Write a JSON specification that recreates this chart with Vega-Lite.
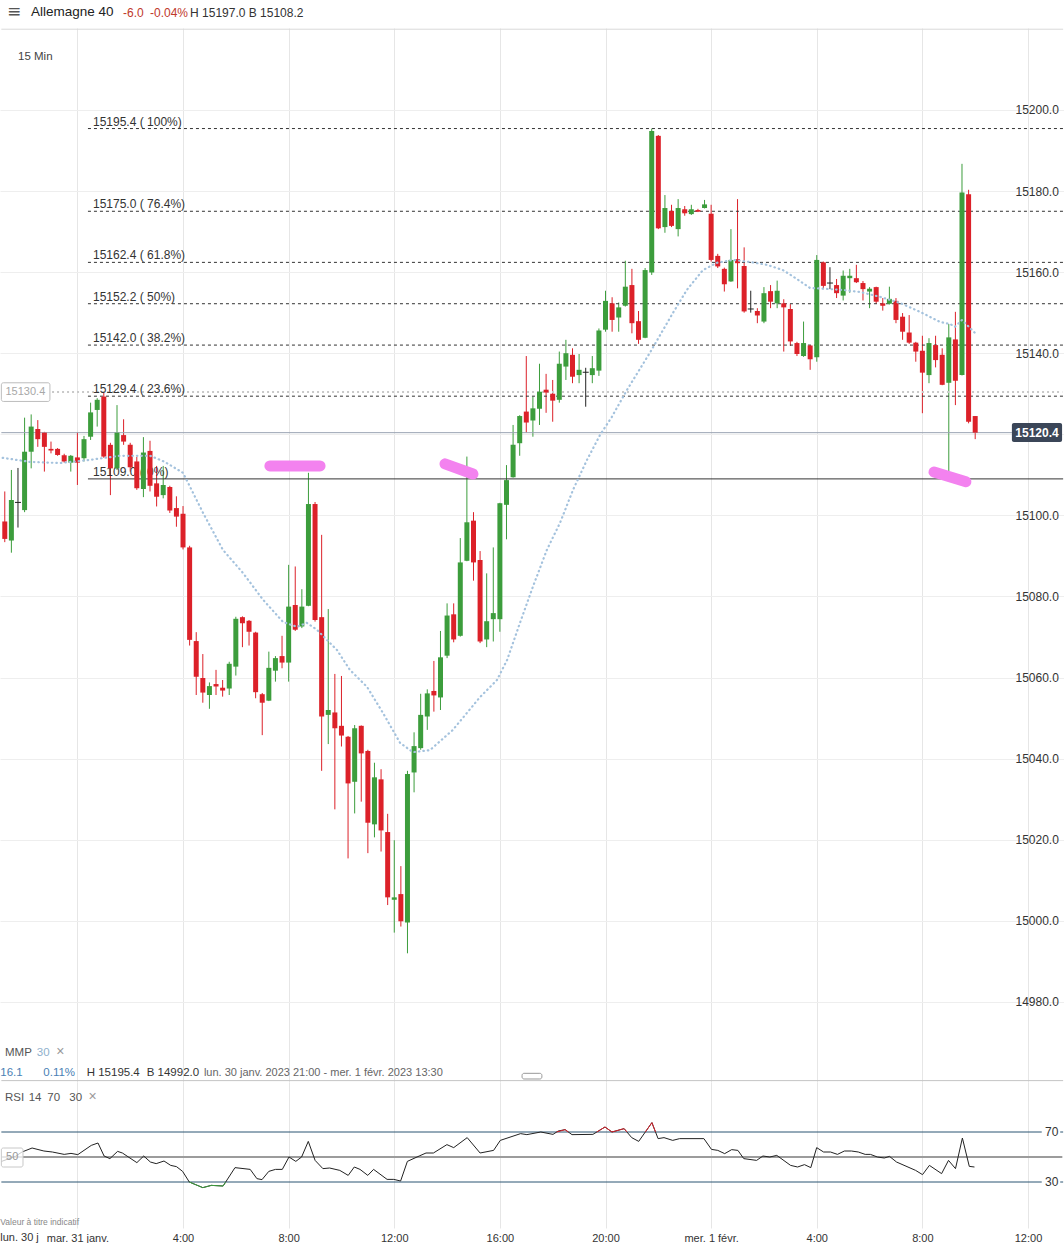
{
"$schema": "https://vega.github.io/schema/vega-lite/v6.json",
"padding": 0,
"background": "white",
"spacing": 0,
"config": {"view": {"stroke": null}, "font": "Liberation Sans"},
"datasets": {
"candles": [
{"h":-2.75,"o":15098.5,"hi":15105.9,"lo":15093.4,"c":15094.2},
{"h":-2.5,"o":15093.8,"hi":15111.2,"lo":15090.8,"c":15103.8},
{"h":-2.25,"o":15103.2,"hi":15111.7,"lo":15097.0,"c":15103.2},
{"h":-2,"o":15101.3,"hi":15124.1,"lo":15100.8,"c":15115.7},
{"h":-1.75,"o":15115.7,"hi":15124.9,"lo":15111.6,"c":15121.9},
{"h":-1.5,"o":15121.3,"hi":15123.5,"lo":15116.9,"c":15118.8},
{"h":-1.25,"o":15120.4,"hi":15120.6,"lo":15110.8,"c":15116.9},
{"h":-1,"o":15116.4,"hi":15118.2,"lo":15115.3,"c":15116.0},
{"h":-0.75,"o":15116.4,"hi":15116.6,"lo":15114.7,"c":15114.9},
{"h":-0.5,"o":15114.8,"hi":15115.2,"lo":15113.0,"c":15113.3},
{"h":-0.25,"o":15113.0,"hi":15114.9,"lo":15110.8,"c":15114.7},
{"h":0,"o":15114.3,"hi":15120.5,"lo":15107.5,"c":15113.0},
{"h":0.25,"o":15114.1,"hi":15119.6,"lo":15113.3,"c":15118.8},
{"h":0.5,"o":15119.4,"hi":15127.8,"lo":15118.6,"c":15125.4},
{"h":0.75,"o":15126.0,"hi":15128.9,"lo":15121.9,"c":15128.5},
{"h":1,"o":15129.3,"hi":15130.2,"lo":15114.2,"c":15114.5},
{"h":1.25,"o":15117.4,"hi":15117.9,"lo":15105.0,"c":15111.6},
{"h":1.5,"o":15111.6,"hi":15127.2,"lo":15111.2,"c":15120.4},
{"h":1.75,"o":15119.8,"hi":15123.7,"lo":15117.4,"c":15118.2},
{"h":2,"o":15117.4,"hi":15117.9,"lo":15110.8,"c":15111.9},
{"h":2.25,"o":15113.3,"hi":15114.4,"lo":15106.3,"c":15106.7},
{"h":2.5,"o":15106.5,"hi":15119.3,"lo":15104.5,"c":15115.5},
{"h":2.75,"o":15115.9,"hi":15118.4,"lo":15105.9,"c":15107.3},
{"h":3,"o":15107.9,"hi":15112.2,"lo":15102.2,"c":15104.6},
{"h":3.25,"o":15105.0,"hi":15112.2,"lo":15104.2,"c":15107.5},
{"h":3.5,"o":15107.0,"hi":15107.3,"lo":15100.6,"c":15101.2},
{"h":3.75,"o":15101.8,"hi":15104.7,"lo":15097.2,"c":15099.7},
{"h":4,"o":15100.4,"hi":15102.3,"lo":15091.6,"c":15092.1},
{"h":4.25,"o":15092.1,"hi":15092.5,"lo":15067.9,"c":15069.3},
{"h":4.5,"o":15069.0,"hi":15071.2,"lo":15055.7,"c":15060.2},
{"h":4.75,"o":15059.9,"hi":15065.8,"lo":15053.8,"c":15056.3},
{"h":5,"o":15055.7,"hi":15058.8,"lo":15052.3,"c":15057.9},
{"h":5.25,"o":15058.4,"hi":15061.9,"lo":15055.7,"c":15057.8},
{"h":5.5,"o":15057.5,"hi":15059.4,"lo":15055.3,"c":15056.8},
{"h":5.75,"o":15057.3,"hi":15063.9,"lo":15055.7,"c":15063.4},
{"h":6,"o":15062.7,"hi":15075.0,"lo":15060.5,"c":15074.5},
{"h":6.25,"o":15074.9,"hi":15075.1,"lo":15067.5,"c":15073.4},
{"h":6.5,"o":15074.0,"hi":15074.2,"lo":15067.9,"c":15071.3},
{"h":6.75,"o":15071.1,"hi":15071.3,"lo":15054.9,"c":15056.4},
{"h":7,"o":15055.9,"hi":15056.2,"lo":15045.8,"c":15053.8},
{"h":7.25,"o":15054.3,"hi":15066.4,"lo":15054.2,"c":15062.4},
{"h":7.5,"o":15061.7,"hi":15065.3,"lo":15059.0,"c":15064.8},
{"h":7.75,"o":15065.3,"hi":15070.3,"lo":15062.3,"c":15063.7},
{"h":8,"o":15063.7,"hi":15087.8,"lo":15059.0,"c":15077.5},
{"h":8.25,"o":15077.9,"hi":15087.4,"lo":15071.5,"c":15071.8},
{"h":8.5,"o":15072.6,"hi":15081.8,"lo":15072.2,"c":15077.5},
{"h":8.75,"o":15077.7,"hi":15110.5,"lo":15077.6,"c":15102.8},
{"h":9,"o":15102.8,"hi":15103.3,"lo":15073.8,"c":15074.2},
{"h":9.25,"o":15074.9,"hi":15095.2,"lo":15037.0,"c":15050.4},
{"h":9.5,"o":15050.8,"hi":15076.9,"lo":15043.6,"c":15052.0},
{"h":9.75,"o":15051.4,"hi":15060.9,"lo":15027.5,"c":15047.5},
{"h":10,"o":15048.1,"hi":15060.4,"lo":15043.0,"c":15045.7},
{"h":10.25,"o":15045.4,"hi":15045.6,"lo":15015.4,"c":15033.9},
{"h":10.5,"o":15034.3,"hi":15048.3,"lo":15026.5,"c":15047.5},
{"h":10.75,"o":15048.1,"hi":15048.2,"lo":15029.4,"c":15041.3},
{"h":11,"o":15041.9,"hi":15042.2,"lo":15016.7,"c":15024.2},
{"h":11.25,"o":15023.8,"hi":15039.0,"lo":15020.6,"c":15035.4},
{"h":11.5,"o":15034.9,"hi":15037.4,"lo":15017.1,"c":15022.3},
{"h":11.75,"o":15021.9,"hi":15026.4,"lo":15003.9,"c":15005.8},
{"h":12,"o":15005.2,"hi":15019.9,"lo":14997.1,"c":15005.8},
{"h":12.25,"o":15006.6,"hi":15013.5,"lo":14998.6,"c":14999.9},
{"h":12.5,"o":14999.6,"hi":15037.0,"lo":14992.0,"c":15036.2},
{"h":12.75,"o":15036.6,"hi":15046.5,"lo":15031.7,"c":15043.1},
{"h":13,"o":15042.6,"hi":15056.0,"lo":15042.2,"c":15050.8},
{"h":13.25,"o":15050.4,"hi":15057.1,"lo":15047.1,"c":15056.1},
{"h":13.5,"o":15056.7,"hi":15064.1,"lo":15051.6,"c":15055.6},
{"h":13.75,"o":15055.1,"hi":15071.5,"lo":15052.0,"c":15065.0},
{"h":14,"o":15065.4,"hi":15078.3,"lo":15064.8,"c":15075.3},
{"h":14.25,"o":15075.6,"hi":15078.3,"lo":15068.7,"c":15069.4},
{"h":14.5,"o":15070.3,"hi":15094.4,"lo":15070.1,"c":15088.4},
{"h":14.75,"o":15088.8,"hi":15114.5,"lo":15088.7,"c":15098.3},
{"h":15,"o":15098.7,"hi":15100.8,"lo":15083.9,"c":15088.4},
{"h":15.25,"o":15089.0,"hi":15091.2,"lo":15068.5,"c":15068.9},
{"h":15.5,"o":15069.4,"hi":15085.7,"lo":15067.5,"c":15073.9},
{"h":15.75,"o":15074.4,"hi":15092.1,"lo":15068.9,"c":15075.9},
{"h":16,"o":15074.4,"hi":15103.1,"lo":15071.3,"c":15103.0},
{"h":16.25,"o":15102.6,"hi":15112.4,"lo":15094.1,"c":15108.7},
{"h":16.5,"o":15109.4,"hi":15122.3,"lo":15109.3,"c":15117.4},
{"h":16.75,"o":15117.8,"hi":15124.7,"lo":15114.7,"c":15124.5},
{"h":17,"o":15125.6,"hi":15139.3,"lo":15120.4,"c":15122.9},
{"h":17.25,"o":15123.4,"hi":15129.3,"lo":15119.4,"c":15126.4},
{"h":17.5,"o":15126.3,"hi":15137.4,"lo":15122.3,"c":15130.5},
{"h":17.75,"o":15131.0,"hi":15134.9,"lo":15125.3,"c":15130.3},
{"h":18,"o":15130.0,"hi":15133.4,"lo":15123.1,"c":15128.3},
{"h":18.25,"o":15128.5,"hi":15140.4,"lo":15127.8,"c":15137.4},
{"h":18.5,"o":15136.7,"hi":15143.3,"lo":15133.4,"c":15140.0},
{"h":18.75,"o":15139.6,"hi":15141.2,"lo":15132.6,"c":15134.2},
{"h":19,"o":15134.6,"hi":15139.8,"lo":15132.6,"c":15135.9},
{"h":19.25,"o":15135.3,"hi":15136.4,"lo":15126.8,"c":15135.3},
{"h":19.5,"o":15134.6,"hi":15139.3,"lo":15132.6,"c":15136.3},
{"h":19.75,"o":15135.7,"hi":15146.1,"lo":15134.4,"c":15145.6},
{"h":20,"o":15145.8,"hi":15155.4,"lo":15145.3,"c":15152.9},
{"h":20.25,"o":15152.3,"hi":15153.8,"lo":15145.3,"c":15148.2},
{"h":20.5,"o":15148.8,"hi":15152.5,"lo":15145.3,"c":15151.3},
{"h":20.75,"o":15151.7,"hi":15162.8,"lo":15151.5,"c":15156.4},
{"h":21,"o":15156.8,"hi":15160.8,"lo":15144.9,"c":15147.4},
{"h":21.25,"o":15147.9,"hi":15150.4,"lo":15142.3,"c":15143.3},
{"h":21.5,"o":15143.8,"hi":15161.0,"lo":15143.7,"c":15160.5},
{"h":21.75,"o":15159.9,"hi":15195.4,"lo":15159.3,"c":15194.8},
{"h":22,"o":15193.6,"hi":15193.8,"lo":15170.6,"c":15170.8},
{"h":22.25,"o":15171.1,"hi":15179.0,"lo":15169.7,"c":15175.8},
{"h":22.5,"o":15175.1,"hi":15176.6,"lo":15171.1,"c":15171.4},
{"h":22.75,"o":15170.6,"hi":15178.0,"lo":15168.8,"c":15175.8},
{"h":23,"o":15175.5,"hi":15176.3,"lo":15173.9,"c":15174.5},
{"h":23.25,"o":15174.3,"hi":15176.6,"lo":15174.1,"c":15175.5},
{"h":23.5,"o":15175.3,"hi":15175.6,"lo":15174.8,"c":15174.9},
{"h":23.75,"o":15175.8,"hi":15177.8,"lo":15175.7,"c":15176.7},
{"h":24,"o":15174.4,"hi":15176.6,"lo":15162.6,"c":15163.0},
{"h":24.25,"o":15164.0,"hi":15164.5,"lo":15161.0,"c":15161.4},
{"h":24.5,"o":15160.8,"hi":15161.1,"lo":15155.2,"c":15157.0},
{"h":24.75,"o":15157.7,"hi":15170.6,"lo":15157.6,"c":15163.0},
{"h":25,"o":15163.2,"hi":15178.0,"lo":15156.0,"c":15162.2},
{"h":25.25,"o":15161.5,"hi":15166.1,"lo":15150.0,"c":15150.3},
{"h":25.5,"o":15150.9,"hi":15155.4,"lo":15150.0,"c":15150.9},
{"h":25.75,"o":15150.4,"hi":15151.1,"lo":15147.4,"c":15149.3},
{"h":26,"o":15147.8,"hi":15156.3,"lo":15147.4,"c":15154.8},
{"h":26.25,"o":15155.3,"hi":15156.8,"lo":15151.1,"c":15152.7},
{"h":26.5,"o":15152.3,"hi":15157.9,"lo":15151.1,"c":15155.4},
{"h":26.75,"o":15152.3,"hi":15153.3,"lo":15140.4,"c":15151.3},
{"h":27,"o":15150.9,"hi":15152.1,"lo":15141.8,"c":15142.9},
{"h":27.25,"o":15142.5,"hi":15142.8,"lo":15139.3,"c":15139.8},
{"h":27.5,"o":15139.3,"hi":15147.8,"lo":15139.1,"c":15142.5},
{"h":27.75,"o":15141.9,"hi":15142.0,"lo":15135.9,"c":15138.5},
{"h":28,"o":15139.0,"hi":15164.2,"lo":15137.9,"c":15163.0},
{"h":28.25,"o":15162.4,"hi":15162.6,"lo":15155.8,"c":15156.6},
{"h":28.5,"o":15157.3,"hi":15161.2,"lo":15155.8,"c":15157.3},
{"h":28.75,"o":15156.8,"hi":15158.3,"lo":15153.6,"c":15154.8},
{"h":29,"o":15154.2,"hi":15160.4,"lo":15153.0,"c":15159.1},
{"h":29.25,"o":15158.5,"hi":15160.8,"lo":15154.9,"c":15159.1},
{"h":29.5,"o":15158.5,"hi":15161.8,"lo":15157.3,"c":15157.5},
{"h":29.75,"o":15157.3,"hi":15157.8,"lo":15153.0,"c":15155.8},
{"h":30,"o":15155.2,"hi":15156.3,"lo":15151.1,"c":15155.9},
{"h":30.25,"o":15156.3,"hi":15156.4,"lo":15152.2,"c":15152.7},
{"h":30.5,"o":15152.3,"hi":15153.6,"lo":15150.5,"c":15151.7},
{"h":30.75,"o":15152.2,"hi":15156.4,"lo":15152.0,"c":15153.4},
{"h":31,"o":15152.9,"hi":15153.6,"lo":15147.4,"c":15148.2},
{"h":31.25,"o":15149.0,"hi":15149.9,"lo":15143.3,"c":15145.3},
{"h":31.5,"o":15145.1,"hi":15149.4,"lo":15142.3,"c":15142.6},
{"h":31.75,"o":15142.6,"hi":15142.8,"lo":15137.9,"c":15140.4},
{"h":32,"o":15140.6,"hi":15144.3,"lo":15125.2,"c":15135.2},
{"h":32.25,"o":15134.6,"hi":15143.7,"lo":15132.6,"c":15142.5},
{"h":32.5,"o":15142.0,"hi":15144.3,"lo":15136.5,"c":15138.3},
{"h":32.75,"o":15139.6,"hi":15141.2,"lo":15132.1,"c":15132.2},
{"h":33,"o":15132.7,"hi":15147.2,"lo":15109.2,"c":15143.9},
{"h":33.25,"o":15143.4,"hi":15150.2,"lo":15127.2,"c":15133.2},
{"h":33.5,"o":15134.6,"hi":15186.7,"lo":15134.5,"c":15179.6},
{"h":33.75,"o":15179.2,"hi":15180.3,"lo":15122.7,"c":15123.1},
{"h":34,"o":15124.5,"hi":15124.5,"lo":15118.8,"c":15120.4}
],
"ma": [
{"h":-2.83,"p":15114.2},{"h":-1.8,"p":15113.2},{"h":-0.66,"p":15112.9},{"h":0.48,"p":15113.7},{"h":1.61,"p":15114.7},{"h":2.75,"p":15114.7},{"h":3.31,"p":15113.2},{"h":4.0,"p":15110.5},{"h":4.76,"p":15100.6},{"h":5.51,"p":15091.5},{"h":6.27,"p":15085.8},{"h":7.03,"p":15079.2},{"h":7.79,"p":15073.7},{"h":8.32,"p":15072.5},{"h":8.69,"p":15073.5},{"h":9.07,"p":15071.8},{"h":9.83,"p":15066.8},{"h":10.32,"p":15061.9},{"h":10.97,"p":15057.7},{"h":11.57,"p":15051.3},{"h":12.22,"p":15043.9},{"h":12.71,"p":15041.6},{"h":13.35,"p":15042.1},{"h":14.22,"p":15047.1},{"h":15.25,"p":15055.2},{"h":15.89,"p":15059.4},{"h":16.27,"p":15064.3},{"h":16.76,"p":15073.5},{"h":17.25,"p":15082.4},{"h":17.78,"p":15091.5},{"h":18.28,"p":15098.2},{"h":18.77,"p":15106.3},{"h":19.3,"p":15113.7},{"h":19.79,"p":15119.8},{"h":20.24,"p":15124.3},{"h":20.81,"p":15130.9},{"h":21.68,"p":15140.1},{"h":22.55,"p":15149.9},{"h":23.08,"p":15155.6},{"h":23.69,"p":15160.5},{"h":24.22,"p":15162.3},{"h":24.83,"p":15163.0},{"h":25.47,"p":15162.5},{"h":26.11,"p":15161.8},{"h":26.72,"p":15160.5},{"h":27.25,"p":15158.3},{"h":27.74,"p":15156.1},{"h":28.24,"p":15155.9},{"h":28.99,"p":15155.6},{"h":29.64,"p":15155.1},{"h":30.39,"p":15153.9},{"h":31.15,"p":15152.4},{"h":31.91,"p":15150.2},{"h":32.67,"p":15147.7},{"h":33.05,"p":15147.2},{"h":33.23,"p":15146.5},{"h":33.5,"p":15148.2},{"h":33.99,"p":15145.0}
],
"fib": [
{"p":15195.4,"lbl":"15195.4 ( 100%)"},
{"p":15175.0,"lbl":"15175.0 ( 76.4%)"},
{"p":15162.4,"lbl":"15162.4 ( 61.8%)"},
{"p":15152.2,"lbl":"15152.2 ( 50%)"},
{"p":15142.0,"lbl":"15142.0 ( 38.2%)"},
{"p":15129.4,"lbl":"15129.4 ( 23.6%)"}
],
"fib0": [{"p":15109.0,"lbl":"15109.0 ( 0%)"}],
"pink": [
{"id":1,"h":7.29,"p":15112.2},{"id":1,"h":9.19,"p":15112.2},
{"id":2,"h":13.92,"p":15112.7},{"id":2,"h":14.98,"p":15110.2},
{"id":3,"h":32.44,"p":15110.7},{"id":3,"h":33.65,"p":15108.3}
],
"rsi": [
{"h":-2.87,"r":46.5},{"h":-2.35,"r":50.5},{"h":-2.098,"r":54.0},{"h":-1.716,"r":57.2},{"h":-1.269,"r":54.8},{"h":-0.947,"r":54.0},{"h":-0.5,"r":52.1},{"h":-0.242,"r":52.9},{"h":0.015,"r":51.9},{"h":0.526,"r":59.3},{"h":0.78,"r":61.2},{"h":1.011,"r":50.8},{"h":1.231,"r":48.7},{"h":1.522,"r":54.5},{"h":1.704,"r":53.2},{"h":2.253,"r":45.5},{"h":2.511,"r":50.8},{"h":2.764,"r":46.0},{"h":2.984,"r":44.7},{"h":3.28,"r":46.8},{"h":3.533,"r":43.3},{"h":3.753,"r":42.3},{"h":3.984,"r":38.5},{"h":4.238,"r":30.0},{"h":4.749,"r":25.5},{"h":5.071,"r":27.3},{"h":5.518,"r":26.8},{"h":5.968,"r":41.5},{"h":6.544,"r":40.1},{"h":6.798,"r":32.7},{"h":6.991,"r":31.9},{"h":7.248,"r":38.5},{"h":7.502,"r":40.1},{"h":7.76,"r":40.1},{"h":8.013,"r":50.0},{"h":8.271,"r":46.5},{"h":8.491,"r":50.0},{"h":8.744,"r":62.5},{"h":9.002,"r":47.3},{"h":9.297,"r":40.7},{"h":9.551,"r":41.2},{"h":9.937,"r":39.3},{"h":10.255,"r":35.3},{"h":10.486,"r":42.0},{"h":10.702,"r":40.1},{"h":10.998,"r":35.3},{"h":11.217,"r":40.1},{"h":11.728,"r":32.1},{"h":11.982,"r":32.1},{"h":12.24,"r":30.8},{"h":12.497,"r":46.5},{"h":12.944,"r":50.8},{"h":13.202,"r":53.2},{"h":13.482,"r":53.2},{"h":13.993,"r":59.9},{"h":14.251,"r":57.5},{"h":14.762,"r":65.5},{"h":15.25,"r":53.2},{"h":15.762,"r":55.3},{"h":16.015,"r":63.3},{"h":16.784,"r":68.7},{"h":17.022,"r":67.9},{"h":17.549,"r":70.0},{"h":18.011,"r":68.1},{"h":18.208,"r":70.8},{"h":18.469,"r":71.9},{"h":18.73,"r":67.9},{"h":19.522,"r":68.1},{"h":19.98,"r":74.0},{"h":20.245,"r":70.0},{"h":20.704,"r":72.7},{"h":20.992,"r":65.5},{"h":21.257,"r":62.5},{"h":21.757,"r":77.5},{"h":21.991,"r":64.7},{"h":22.215,"r":65.5},{"h":22.544,"r":63.3},{"h":22.806,"r":64.7},{"h":23.726,"r":64.7},{"h":24.013,"r":56.1},{"h":24.252,"r":55.3},{"h":24.513,"r":52.7},{"h":24.778,"r":55.9},{"h":25.013,"r":55.3},{"h":25.236,"r":48.7},{"h":25.721,"r":47.3},{"h":25.96,"r":50.8},{"h":26.221,"r":50.0},{"h":26.486,"r":51.3},{"h":27.009,"r":43.3},{"h":27.274,"r":42.0},{"h":27.535,"r":43.9},{"h":27.774,"r":41.5},{"h":27.997,"r":57.5},{"h":28.259,"r":54.0},{"h":28.52,"r":54.0},{"h":28.785,"r":52.1},{"h":29.046,"r":54.8},{"h":29.311,"r":54.8},{"h":29.573,"r":54.0},{"h":29.834,"r":52.1},{"h":30.031,"r":52.1},{"h":30.296,"r":50.0},{"h":30.558,"r":49.2},{"h":30.755,"r":50.5},{"h":31.02,"r":46.0},{"h":31.743,"r":39.3},{"h":32.005,"r":35.9},{"h":32.266,"r":43.3},{"h":32.728,"r":36.7},{"h":32.989,"r":47.3},{"h":33.254,"r":40.7},{"h":33.515,"r":65.2},{"h":33.776,"r":42.5},{"h":33.973,"r":42.0}
],
"rsiHigh": [
{"s":1,"h":18.15,"r":70},{"s":1,"h":18.469,"r":71.9},{"s":1,"h":18.59,"r":70},
{"s":2,"h":19.67,"r":70},{"s":2,"h":19.98,"r":74.0},{"s":2,"h":20.245,"r":70.0},{"s":2,"h":20.704,"r":72.7},{"s":2,"h":20.813,"r":70},
{"s":3,"h":21.507,"r":70},{"s":3,"h":21.757,"r":77.5},{"s":3,"h":21.893,"r":70}
],
"rsiLow": [
{"h":4.238,"r":30.0},{"h":4.749,"r":25.5},{"h":5.071,"r":27.3},{"h":5.518,"r":26.8},{"h":5.616,"r":30.0}
]
},
"vconcat": [
{
"width": 1064, "height": 28,
"data": {"values": [{}]},
"encoding": {"x": {"datum": 0, "type": "quantitative", "scale": {"domain": [-2.931, 37.363], "nice": false, "zero": false}, "axis": null}},
"layer": [
{"mark": {"type": "text", "text": "≡", "font": "DejaVu Sans", "fontSize": 17, "color": "#555555", "align": "center", "dy": -2}, "encoding": {"x": {"datum": -2.4, "type": "quantitative"}}},
{"mark": {"type": "text", "text": "Allemagne 40", "fontSize": 13.5, "color": "#222222", "align": "left", "dy": -2}, "encoding": {"x": {"datum": -1.757, "type": "quantitative"}}},
{"mark": {"type": "text", "text": "-6.0", "fontSize": 12, "color": "#c0392b", "align": "left", "dy": -1}, "encoding": {"x": {"datum": 1.727, "type": "quantitative"}}},
{"mark": {"type": "text", "text": "-0.04%", "fontSize": 12, "color": "#c0392b", "align": "left", "dy": -1}, "encoding": {"x": {"datum": 2.75, "type": "quantitative"}}},
{"mark": {"type": "text", "text": "H 15197.0 B 15108.2", "fontSize": 12, "color": "#333333", "align": "left", "dy": -1}, "encoding": {"x": {"datum": 4.266, "type": "quantitative"}}}
]
},
{
"width": 1064, "height": 1054,
"layer": [
{"data": {"name": "candles"},
 "mark": {"type": "rule", "strokeWidth": 1, "clip": true},
 "encoding": {
  "x": {"field": "h", "type": "quantitative", "scale": {"domain": [-2.931, 37.363], "nice": false, "zero": false, "padding": 0}, "axis": {"values": [0,4,8,12,16,20,24,28,32,36], "labels": false, "ticks": false, "domain": false, "grid": true, "gridColor": "#e6e6e6", "title": null}},
  "y": {"field": "lo", "type": "quantitative", "scale": {"domain": [14960.26, 15220.2], "nice": false, "zero": false}, "axis": {"orient": "right", "offset": -56, "values": [14980,15000,15020,15040,15060,15080,15100,15120,15140,15160,15180,15200], "format": ".1f", "grid": true, "gridColor": "#eeeeee", "ticks": false, "domain": false, "labelPadding": 7, "labelFontSize": 12, "labelColor": "#333333", "title": null}},
  "y2": {"field": "hi"},
  "color": {"condition": [{"test": "datum.c > datum.o", "value": "#3c9d3c"}, {"test": "datum.c == datum.o", "value": "#222222"}], "value": "#dc2129"}
 }},
{"data": {"values": [{}]}, "mark": {"type": "rule", "color": "#d9d9d9"}, "encoding": {"x": {"datum": -2.88}, "x2": {"datum": 37.33}, "y": {"datum": 15219.9}}},
{"data": {"values": [{}]}, "mark": {"type": "rule", "color": "#c4c4c4"}, "encoding": {"x": {"datum": -2.88}, "x2": {"datum": 37.33}, "y": {"datum": 14960.6}}},
{"data": {"name": "fib"}, "mark": {"type": "rule", "color": "#333333", "strokeWidth": 1, "strokeDash": [3, 3]}, "encoding": {"x": {"datum": 0.4}, "x2": {"datum": 37.33}, "y": {"field": "p", "type": "quantitative"}}},
{"data": {"name": "fib0"}, "mark": {"type": "rule", "color": "#333333", "strokeWidth": 1}, "encoding": {"x": {"datum": 0.4}, "x2": {"datum": 37.33}, "y": {"field": "p", "type": "quantitative"}}},
{"data": {"values": [{}]}, "mark": {"type": "rule", "color": "#c9c9c9", "strokeWidth": 2, "strokeDash": [2, 3]}, "encoding": {"x": {"datum": -0.96}, "x2": {"datum": 37.3}, "y": {"datum": 15130.4}}},
{"data": {"values": [{}]}, "mark": {"type": "rule", "color": "#9aa3b2", "strokeWidth": 1}, "encoding": {"x": {"datum": -2.88}, "x2": {"datum": 35.39}, "y": {"datum": 15120.4}}},
{"data": {"name": "fib"}, "mark": {"type": "text", "align": "left", "baseline": "alphabetic", "dy": -3, "fontSize": 12, "color": "#333333"}, "encoding": {"x": {"datum": 0.591}, "y": {"field": "p", "type": "quantitative"}, "text": {"field": "lbl"}}},
{"data": {"name": "fib0"}, "mark": {"type": "text", "align": "left", "baseline": "alphabetic", "dy": -3, "fontSize": 12, "color": "#333333"}, "encoding": {"x": {"datum": 0.591}, "y": {"field": "p", "type": "quantitative"}, "text": {"field": "lbl"}}},
{"data": {"name": "candles"},
 "mark": {"type": "bar", "size": 5, "clip": true},
 "encoding": {
  "x": {"field": "h", "type": "quantitative"},
  "y": {"field": "o", "type": "quantitative"},
  "y2": {"field": "c"},
  "color": {"condition": {"test": "datum.c > datum.o", "value": "#3c9d3c"}, "value": "#dc2129"}
 }},
{"data": {"name": "candles"},
 "transform": [{"filter": "datum.c == datum.o"}],
 "mark": {"type": "rule", "color": "#222222", "strokeWidth": 1, "xOffset": -3, "x2Offset": 3, "clip": true},
 "encoding": {"x": {"field": "h", "type": "quantitative"}, "x2": {"field": "h"}, "y": {"field": "o", "type": "quantitative"}}},
{"data": {"name": "ma"}, "mark": {"type": "line", "color": "#a4c2dd", "strokeWidth": 2.2, "strokeDash": [0.5, 4], "strokeCap": "round", "strokeJoin": "round"}, "encoding": {"x": {"field": "h", "type": "quantitative"}, "y": {"field": "p", "type": "quantitative"}}},
{"data": {"name": "pink"}, "mark": {"type": "line", "color": "#f382ef", "strokeWidth": 11, "strokeCap": "round", "strokeJoin": "round"}, "encoding": {"x": {"field": "h", "type": "quantitative"}, "y": {"field": "p", "type": "quantitative"}, "detail": {"field": "id"}}},
{"data": {"values": [{}]}, "mark": {"type": "rect", "fill": "white", "stroke": "#bdbdbd", "strokeWidth": 1, "cornerRadius": 2}, "encoding": {"x": {"datum": -2.88}, "x2": {"datum": -1.04}, "y": {"datum": 15132.7}, "y2": {"datum": 15128.1}}},
{"data": {"values": [{}]}, "mark": {"type": "text", "text": "15130.4", "fontSize": 11, "color": "#a8a8a8", "align": "center", "baseline": "middle"}, "encoding": {"x": {"datum": -1.97}, "y": {"datum": 15130.4}}},
{"data": {"values": [{}]}, "mark": {"type": "rect", "fill": "#3b4658", "cornerRadius": 2}, "encoding": {"x": {"datum": 35.39}, "x2": {"datum": 37.29}, "y": {"datum": 15122.8}, "y2": {"datum": 15118.1}}},
{"data": {"values": [{}]}, "mark": {"type": "text", "text": "15120.4", "fontSize": 12, "fontWeight": "bold", "color": "white", "align": "center", "baseline": "middle"}, "encoding": {"x": {"datum": 36.34}, "y": {"datum": 15120.4}}},
{"data": {"values": [{}]}, "mark": {"type": "text", "text": "15 Min", "fontSize": 11.5, "color": "#444444", "align": "left", "baseline": "middle"}, "encoding": {"x": {"datum": -2.249}, "y": {"datum": 15212.95}}},
{"data": {"values": [{}]}, "mark": {"type": "text", "text": "MMP", "fontSize": 11.5, "color": "#555555", "align": "left", "baseline": "middle"}, "encoding": {"x": {"datum": -2.742}, "y": {"datum": 14967.4}}},
{"data": {"values": [{}]}, "mark": {"type": "text", "text": "30", "fontSize": 11.5, "color": "#8fb0cc", "align": "left", "baseline": "middle"}, "encoding": {"x": {"datum": -1.54}, "y": {"datum": 14967.4}}},
{"data": {"values": [{}]}, "mark": {"type": "text", "text": "×", "fontSize": 14, "color": "#999999", "align": "left", "baseline": "middle"}, "encoding": {"x": {"datum": -0.8}, "y": {"datum": 14967.6}}},
{"data": {"values": [{}]}, "mark": {"type": "text", "text": "16.1", "fontSize": 11.5, "color": "#4a7fb5", "align": "left", "baseline": "middle"}, "encoding": {"x": {"datum": -2.92}, "y": {"datum": 14962.5}}},
{"data": {"values": [{}]}, "mark": {"type": "text", "text": "0.11%", "fontSize": 11.5, "color": "#4a7fb5", "align": "left", "baseline": "middle"}, "encoding": {"x": {"datum": -1.29}, "y": {"datum": 14962.5}}},
{"data": {"values": [{}]}, "mark": {"type": "text", "text": "H 15195.4", "fontSize": 11.5, "color": "#333333", "align": "left", "baseline": "middle"}, "encoding": {"x": {"datum": 0.352}, "y": {"datum": 14962.5}}},
{"data": {"values": [{}]}, "mark": {"type": "text", "text": "B 14992.0", "fontSize": 11.5, "color": "#333333", "align": "left", "baseline": "middle"}, "encoding": {"x": {"datum": 2.625}, "y": {"datum": 14962.5}}},
{"data": {"values": [{}]}, "mark": {"type": "text", "text": "lun. 30 janv. 2023 21:00 - mer. 1 févr. 2023 13:30", "fontSize": 11, "color": "#666666", "align": "left", "baseline": "middle"}, "encoding": {"x": {"datum": 4.79}, "y": {"datum": 14962.5}}},
{"data": {"values": [{}]}, "mark": {"type": "rect", "fill": "white", "stroke": "#999999", "strokeWidth": 1, "cornerRadius": 2}, "encoding": {"x": {"datum": 16.84}, "x2": {"datum": 17.59}, "y": {"datum": 14962.4}, "y2": {"datum": 14961.0}}}
]
},
{
"width": 1064, "height": 146,
"layer": [
{"data": {"values": [{}]}, "mark": {"type": "rule", "color": "#9c9c9c", "strokeWidth": 2},
 "encoding": {
  "x": {"datum": -2.85, "type": "quantitative", "scale": {"domain": [-2.931, 37.363], "nice": false, "zero": false, "padding": 0}, "axis": {"values": [0,4,8,12,16,20,24,28,32,36], "labelExpr": "datum.value == 0 ? 'mar. 31 janv.' : datum.value == 24 ? 'mer. 1 févr.' : (datum.value % 24) + ':00'", "labelFontSize": 11, "labelColor": "#333333", "ticks": false, "domain": false, "grid": true, "gridColor": "#e6e6e6", "labelPadding": 4, "labelOverlap": false, "labelFlush": false, "title": null}},
  "x2": {"datum": 37.3},
  "y": {"datum": 50, "type": "quantitative", "scale": {"domain": [-6.8, 110], "nice": false, "zero": false}, "axis": null}
 }},
{"data": {"values": [{"lv": 70}, {"lv": 30}]}, "mark": {"type": "rule", "color": "#2b5572", "strokeWidth": 1}, "encoding": {"x": {"datum": -2.88}, "x2": {"datum": 36.52}, "y": {"field": "lv", "type": "quantitative"}}},
{"data": {"values": [{"lv": 70}, {"lv": 30}]}, "mark": {"type": "rule", "color": "#2b5572", "strokeWidth": 1}, "encoding": {"x": {"datum": 37.22}, "x2": {"datum": 37.33}, "y": {"field": "lv", "type": "quantitative"}}},
{"data": {"values": [{"lv": 70}, {"lv": 30}]}, "mark": {"type": "text", "fontSize": 12, "color": "#333333", "align": "center", "baseline": "middle"}, "encoding": {"x": {"datum": 36.9}, "y": {"field": "lv", "type": "quantitative"}, "text": {"field": "lv"}}},
{"data": {"name": "rsi"}, "mark": {"type": "line", "color": "#222222", "strokeWidth": 1, "strokeJoin": "round"}, "encoding": {"x": {"field": "h", "type": "quantitative"}, "y": {"field": "r", "type": "quantitative"}}},
{"data": {"name": "rsiHigh"}, "mark": {"type": "line", "color": "#d6202a", "strokeWidth": 1, "strokeJoin": "round"}, "encoding": {"x": {"field": "h", "type": "quantitative"}, "y": {"field": "r", "type": "quantitative"}, "detail": {"field": "s"}}},
{"data": {"name": "rsiLow"}, "mark": {"type": "line", "color": "#3c9d3c", "strokeWidth": 1, "strokeJoin": "round"}, "encoding": {"x": {"field": "h", "type": "quantitative"}, "y": {"field": "r", "type": "quantitative"}}},
{"data": {"values": [{}]}, "mark": {"type": "rect", "fill": "white", "fillOpacity": 0.75, "stroke": "#c8c8c8", "strokeWidth": 1, "cornerRadius": 2}, "encoding": {"x": {"datum": -2.88}, "x2": {"datum": -2.06}, "y": {"datum": 57.2}, "y2": {"datum": 42}}},
{"data": {"values": [{}]}, "mark": {"type": "text", "text": "50", "fontSize": 11, "color": "#999999", "align": "center", "baseline": "middle"}, "encoding": {"x": {"datum": -2.47}, "y": {"datum": 50}}},
{"data": {"values": [{"t": "RSI", "x": -2.742}, {"t": "14", "x": -1.844}, {"t": "70", "x": -1.14}, {"t": "30", "x": -0.307}]}, "mark": {"type": "text", "fontSize": 11.5, "color": "#555555", "align": "left", "baseline": "middle"}, "encoding": {"x": {"field": "x", "type": "quantitative"}, "y": {"datum": 97.6}, "text": {"field": "t"}}},
{"data": {"values": [{}]}, "mark": {"type": "text", "text": "×", "fontSize": 14, "color": "#999999", "align": "left", "baseline": "middle"}, "encoding": {"x": {"datum": 0.424}, "y": {"datum": 97.8}}},
{"data": {"values": [{}]}, "mark": {"type": "text", "text": "Valeur à titre indicatif", "fontSize": 8.5, "color": "#888888", "align": "left", "baseline": "middle"}, "encoding": {"x": {"datum": -2.92}, "y": {"datum": -2}}},
{"data": {"values": [{}]}, "mark": {"type": "text", "text": "lun. 30 j", "fontSize": 11, "color": "#333333", "align": "left", "baseline": "middle"}, "encoding": {"x": {"datum": -2.92}, "y": {"datum": -14.8}}}
]
}
]
}
